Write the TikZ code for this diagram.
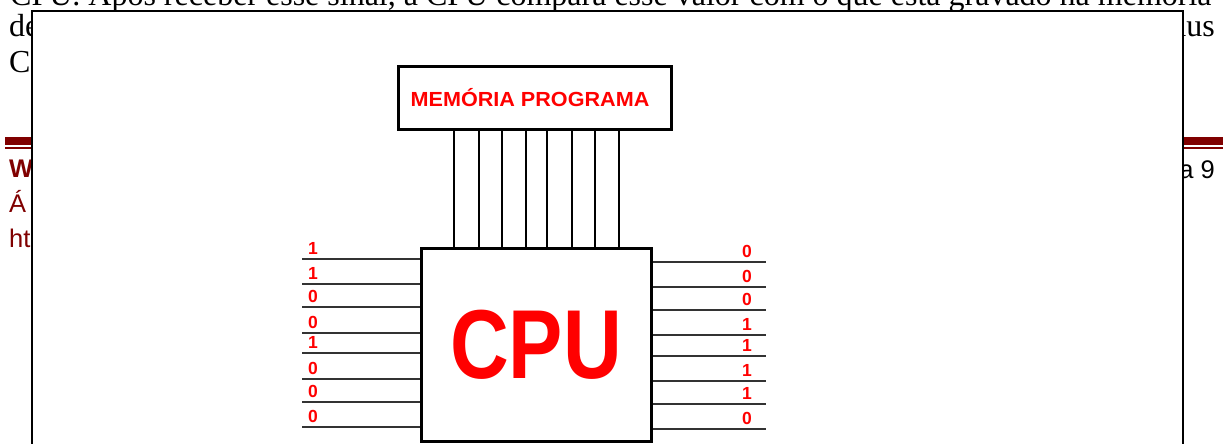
\documentclass[tikz,border=0pt]{standalone}
\usepackage{fontspec}
\usepackage{graphicx}
\setmainfont{Liberation Serif}
\newfontfamily\arialfam{Liberation Sans}
\definecolor{vinho}{RGB}{128,0,0}

\begin{document}
\begin{tikzpicture}[x=1pt,y=-1pt,
  caixa/.style={draw=black,line width=3pt,fill=white,inner sep=0pt},
  fio/.style={line width=1.5pt},
  pino/.style={line width=2pt,black!80},
  bit/.style={text=red,font=\arialfam\bfseries\fontsize{17.5}{17.5}\selectfont,inner sep=0pt},
  fundo/.style={inner sep=0pt,font=\fontsize{32}{36}\selectfont},
  rodape/.style={inner sep=0pt,text=vinho,font=\arialfam\fontsize{25.5}{30}\selectfont}]
 \useasboundingbox (0,0) rectangle (1223,444);
 \clip (0,0) rectangle (1223,444);

 \node[fundo,anchor=base west] (linha1) at (10,6) {CPU. Após receber esse sinal, a CPU compara esse valor com o que está gravado na memória};
 \node[fundo,anchor=base west] (linha2) at (9,37) {de};
 \node[fundo,anchor=base east] (linha2b) at (1215,37) {nus};
 \node[fundo,anchor=base west] (linha3) at (9,73) {Co};
 \fill[vinho] (5,137) rectangle (1223,145);
 \fill[vinho] (5,147) rectangle (1223,148.5);
 \node[rodape,anchor=base west,font=\arialfam\bfseries\fontsize{25.5}{30}\selectfont] (titulo) at (9,177) {W};
 \node[rodape,anchor=base west] (area) at (9,212) {Á};
 \node[rodape,anchor=base west] (url) at (9,247) {ht};
 \node[rodape,anchor=base east,text=black] (pagina) at (1215,178) {a 9};

 \draw[line width=2pt,fill=white] (32,11.5) rectangle (1183,460);

 \node[caixa,minimum width=273pt,minimum height=63pt,text=red,
   font=\arialfam\bfseries\fontsize{20}{20}\selectfont] (mem) at (535,98) {\scalebox{1.08}[1.02]{MEMÓRIA PROGRAMA}\hspace*{10pt}};
 \node[caixa,minimum width=230pt,minimum height=193pt,text=red,
   font=\arialfam\bfseries\fontsize{98}{98}\selectfont] (cpu) at (536,344.5) {\scalebox{0.83}[1]{CPU}};

 \foreach \x in {454,479,502,526,547,572,595,619}
  \draw[fio] (\x,0 |- mem.south) -- (\x,0 |- cpu.north);

 \foreach \y/\b [count=\i] in {259/1,284/1,307/0,333/0,353/1,379/0,402/0,427/0} {
  \coordinate (e\i) at (302,\y);
  \draw[pino] (e\i) -- (e\i -| cpu.west);
  \node[bit] (be\i) at ([xshift=11pt,yshift=11pt]e\i) {\b};
 }
 \foreach \y/\b [count=\i] in {262/0,287/0,310/0,335/1,356/1,381/1,404/1,429/0} {
  \coordinate (s\i) at (766,\y);
  \draw[pino] (s\i -| cpu.east) -- (s\i);
  \node[bit] (bs\i) at ([xshift=-19pt,yshift=11pt]s\i) {\b};
 }
\end{tikzpicture}
\end{document}
